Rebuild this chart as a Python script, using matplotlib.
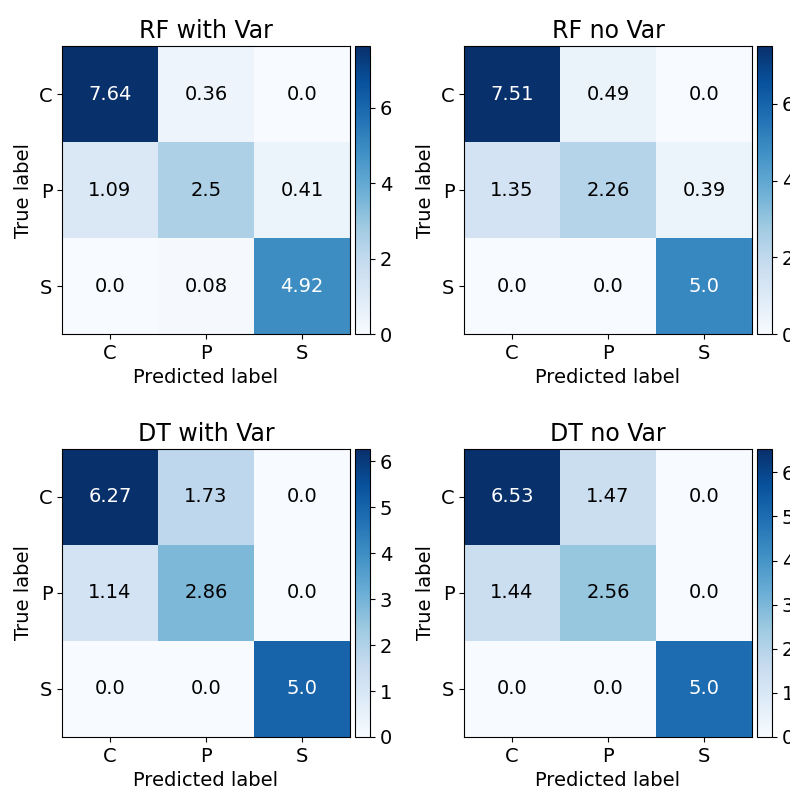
import matplotlib
matplotlib.use("Agg")
import matplotlib.pyplot as plt
import numpy as np

classes = ["C", "P", "S"]

rf_with_var = [[7.64, 0.36, 0.0],
               [1.09, 2.5, 0.41],
               [0.0, 0.08, 4.92]]
rf_no_var = [[7.51, 0.49, 0.0],
             [1.35, 2.26, 0.39],
             [0.0, 0.0, 5.0]]
dt_with_var = [[6.27, 1.73, 0.0],
               [1.14, 2.86, 0.0],
               [0.0, 0.0, 5.0]]
dt_no_var = [[6.53, 1.47, 0.0],
             [1.44, 2.56, 0.0],
             [0.0, 0.0, 5.0]]

titles = ["RF with Var", "RF no Var", "DT with Var", "DT no Var"]
matrices = [rf_with_var, rf_no_var, dt_with_var, dt_no_var]

fig = plt.figure(figsize=(7.9, 7.9), dpi=100)

# axes positions in figure fraction (left, bottom) for each panel
lefts = [62 / 790, 464 / 790, 62 / 790, 464 / 790]
bottoms = [456 / 790, 456 / 790, 53 / 790, 53 / 790]
size = 288 / 790
cb_gap = 5 / 790
cb_w = 15 / 790

for i in range(4):
    cm = np.array(matrices[i])
    ax = fig.add_axes([lefts[i], bottoms[i], size, size])
    im = ax.imshow(cm, interpolation="nearest", cmap=plt.cm.Blues, aspect="auto")
    ax.set_title(titles[i], fontsize=17)
    cax = fig.add_axes([lefts[i] + size + cb_gap, bottoms[i], cb_w, size])
    cb = fig.colorbar(im, cax=cax)
    cb.ax.tick_params(labelsize=14)
    ticks = np.arange(3)
    ax.set_xticks(ticks)
    ax.set_xticklabels(classes, fontsize=14)
    ax.set_yticks(ticks)
    ax.set_yticklabels(classes, fontsize=14)
    thresh = cm.max() / 2.
    for r in range(3):
        for c in range(3):
            ax.text(c, r, str(cm[r, c]), ha="center", va="center", fontsize=14,
                    color="white" if cm[r, c] > thresh else "black")
    ax.set_ylabel("True label", fontsize=14)
    ax.set_xlabel("Predicted label", fontsize=14)

fig.savefig("out.png", dpi=100)
